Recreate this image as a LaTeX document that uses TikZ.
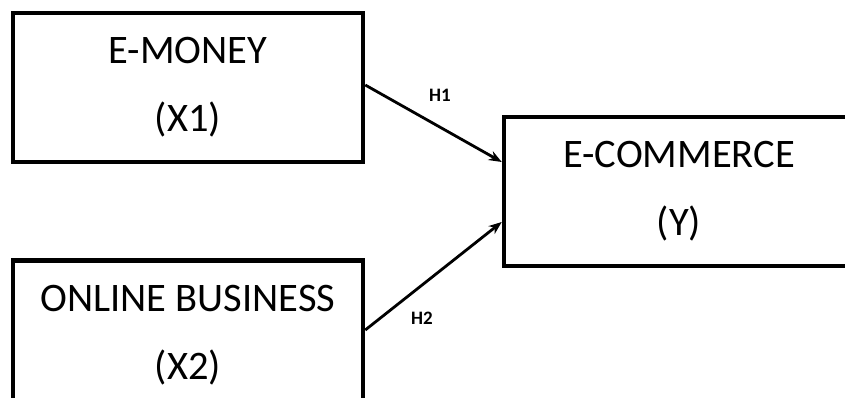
\documentclass[tikz,border=0pt]{standalone}
\usepackage{fontspec}
\setmainfont{Carlito}
\usetikzlibrary{arrows.meta}
\begin{document}
\begin{tikzpicture}[x=1pt,y=-1pt,
  varbox/.style={draw=black, line width=4.5pt, minimum width=350pt, minimum height=149pt,
    align=center, inner sep=0pt, font=\fontsize{40.5}{68}\selectfont},
  link/.style={line width=2.8pt, -{Stealth[length=13pt,width=10pt]}},
  hlabel/.style={font=\bfseries\fontsize{19}{20}\selectfont, inner sep=0pt}]
\useasboundingbox (0,0) rectangle (845,398);
\clip (0,0) rectangle (845,398);
\fill[white] (0,0) rectangle (845,398);
\node[varbox] (x1) at (188,87.5) {E-MONEY\\(X1)};
\node[varbox] (x2) at (188,335) {ONLINE BUSINESS\\(X2)};
\node[varbox] (y) at (679,191.5) {E-COMMERCE\\(Y)};
\draw[link] ([yshift=2.5pt]x1.east) -- ([yshift=29.5pt]y.west);
\draw[link] ([yshift=5pt]x2.east) -- ([yshift=-30.5pt]y.west);
\node[hlabel] (h1) at (440,95) {H1};
\node[hlabel] (h2) at (422,318) {H2};
\end{tikzpicture}
\end{document}
